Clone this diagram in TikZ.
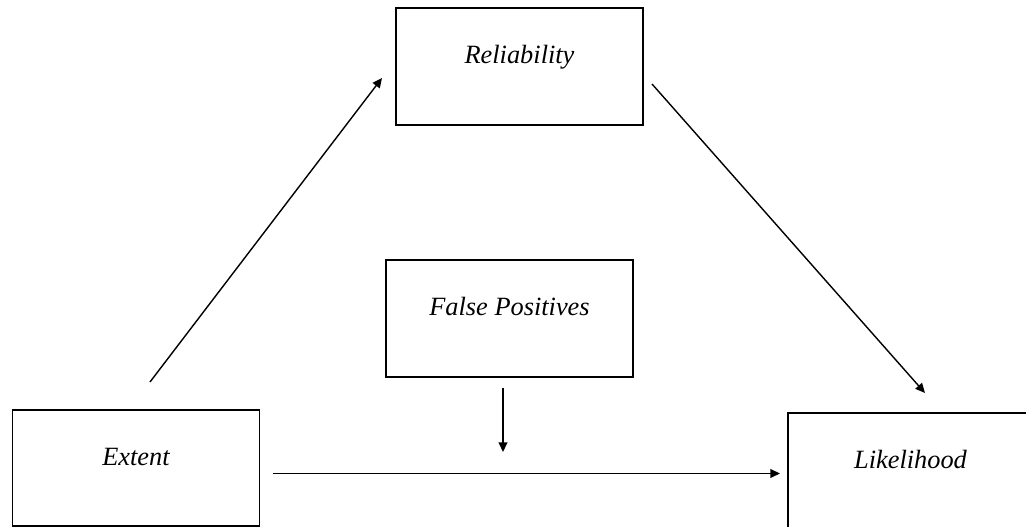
\documentclass[tikz,border=0pt]{standalone}
\usepackage{fontspec}
\setmainfont{Liberation Serif}
\usetikzlibrary{arrows.meta}
\begin{document}
\begin{tikzpicture}[line width=0.8pt, >={Triangle[length=5.5pt,width=5pt]}]
\tikzstyle{box}=[draw, rectangle, line width=1.1pt, fill=white,
  minimum width=4.94cm, minimum height=2.34cm,
  text height=10pt, text depth=13pt,
  font=\fontsize{15}{18}\selectfont\itshape]
\clip (0,0) rectangle (20.52,10.54);
\useasboundingbox (0,0) rectangle (20.52,10.54);

\node[box] (rel) at (10.39, 9.21) {Reliability};
\node[box] (fp)  at (10.19, 4.17) {False Positives};
\node[box] (ext) at ( 2.72, 1.18) [minimum height=2.32cm] {Extent};
\node[box] (lik) at (18.56, 1.11) [minimum width=5.6cm] {Likelihood\hspace*{0.7cm}};

% free ends of the arrows
\coordinate (extout) at ( 3.00, 2.90);
\coordinate (relin)  at ( 7.64, 8.98);
\coordinate (relout) at (13.04, 8.86);
\coordinate (likin)  at (18.50, 2.68);
\coordinate (fpout)  at (10.06, 2.78);
\coordinate (fpin)   at (10.06, 1.50);
\coordinate (extmid) at ( 5.46, 1.07);
\coordinate (likmid) at (15.60, 1.07);

\draw[->] (extout) -- (relin);
\draw[->] (relout) -- (likin);
\draw[->] (fpout) -- (fpin);
\draw[->] (extmid) -- (likmid);
\end{tikzpicture}
\end{document}
